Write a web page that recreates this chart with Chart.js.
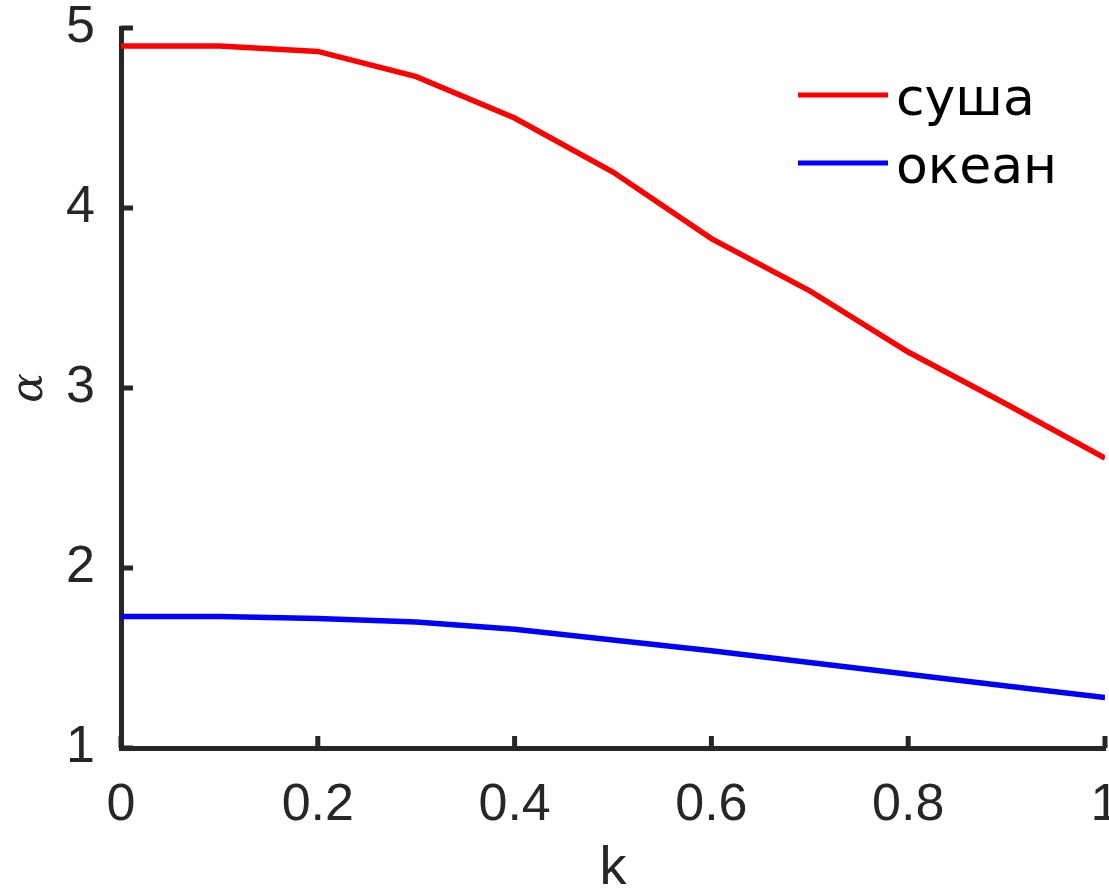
<!DOCTYPE html>
<html lang="ru">
  <head>
    <meta charset="UTF-8" />
    <title>alpha(k)</title>
    <script src="https://cdn.jsdelivr.net/npm/chart.js"></script>
    <style>
      body { margin: 0; background: #fff; }
    </style>
  </head>
  <body>
    <canvas id="alphaChart" width="1109" height="896"></canvas>
    <script>
      // data
      const kValues = [0, 0.1, 0.2, 0.3, 0.4, 0.5, 0.6, 0.7, 0.8, 0.9, 1.0];
      const landValues = [4.9, 4.9, 4.87, 4.73, 4.5, 4.2, 3.83, 3.54, 3.2, 2.91, 2.61];
      const oceanValues = [1.73, 1.73, 1.72, 1.7, 1.66, 1.6, 1.54, 1.475, 1.41, 1.345, 1.28];
      const seriesLabels = ["суша", "океан"];
      const seriesColors = ["#ff0000", "#0000ff"];

      const axisColor = "#262626";
      const toPoints = (ys) => kValues.map((k, i) => ({ x: k, y: ys[i] }));

      // inward tick marks, MATLAB style
      const innerTicks = {
        id: "innerTicks",
        afterDatasetsDraw(chart) {
          const { ctx, chartArea, scales } = chart;
          const len = 12;
          ctx.save();
          ctx.strokeStyle = axisColor;
          ctx.lineWidth = 5;
          scales.x.ticks.forEach((t) => {
            const px = scales.x.getPixelForValue(t.value);
            ctx.beginPath();
            ctx.moveTo(px, chartArea.bottom);
            ctx.lineTo(px, chartArea.bottom - len);
            ctx.stroke();
          });
          scales.y.ticks.forEach((t) => {
            const py = scales.y.getPixelForValue(t.value);
            ctx.beginPath();
            ctx.moveTo(chartArea.left, py);
            ctx.lineTo(chartArea.left + len, py);
            ctx.stroke();
          });
          ctx.restore();
        },
      };

      // legend in the upper right corner, no box
      const cornerLegend = {
        id: "cornerLegend",
        afterDraw(chart) {
          const { ctx } = chart;
          ctx.save();
          ctx.font = "52px 'DejaVu Sans'";
          ctx.fillStyle = "#000";
          ctx.textBaseline = "alphabetic";
          chart.data.datasets.forEach((ds, i) => {
            const y = 95 + i * 68;
            ctx.strokeStyle = ds.borderColor;
            ctx.lineWidth = 5;
            ctx.beginPath();
            ctx.moveTo(798, y);
            ctx.lineTo(888, y);
            ctx.stroke();
            ctx.fillText(ds.label, 896, y + 20);
          });
          ctx.restore();
        },
      };

      const ctx = document.getElementById("alphaChart").getContext("2d");
      new Chart(ctx, {
        type: "line",
        data: {
          datasets: [
            {
              label: seriesLabels[0],
              data: toPoints(landValues),
              borderColor: seriesColors[0],
              borderWidth: 5.5,
              pointRadius: 0,
              tension: 0,
            },
            {
              label: seriesLabels[1],
              data: toPoints(oceanValues),
              borderColor: seriesColors[1],
              borderWidth: 5.5,
              pointRadius: 0,
              tension: 0,
            },
          ],
        },
        options: {
          responsive: false,
          animation: false,
          layout: { padding: { top: 28, right: 4, bottom: 0, left: 0 } },
          plugins: {
            legend: { display: false },
            tooltip: { enabled: false },
          },
          scales: {
            x: {
              type: "linear",
              min: 0,
              max: 1,
              grid: { drawOnChartArea: false, drawTicks: false },
              border: { display: true, color: axisColor, width: 5 },
              ticks: {
                stepSize: 0.2,
                padding: 26,
                color: axisColor,
                font: { family: "'Liberation Sans'", size: 52 },
                callback: (v) => String(Number(v.toFixed(1))),
              },
              title: {
                display: true,
                text: "k",
                color: axisColor,
                font: { family: "'Liberation Sans'", size: 54, lineHeight: 1 },
                padding: 0,
              },
              afterFit(scale) {
                scale.height = 148;
                scale.paddingLeft = 0;
                scale.paddingRight = 0;
              },
            },
            y: {
              min: 1,
              max: 5,
              grid: { drawOnChartArea: false, drawTicks: false },
              border: { display: true, color: axisColor, width: 5 },
              ticks: {
                stepSize: 1,
                padding: 26,
                color: axisColor,
                font: { family: "'Liberation Sans'", size: 52 },
              },
              title: {
                display: true,
                text: "α",
                color: axisColor,
                font: { family: "'DejaVu Serif'", size: 44, style: "italic", lineHeight: 1 },
                padding: { top: 9, bottom: 0 },
              },
              afterFit(scale) {
                scale.width = 121;
                scale.paddingTop = 0;
                scale.paddingBottom = 0;
              },
            },
          },
        },
        plugins: [innerTicks, cornerLegend],
      });
    </script>
  </body>
</html>
